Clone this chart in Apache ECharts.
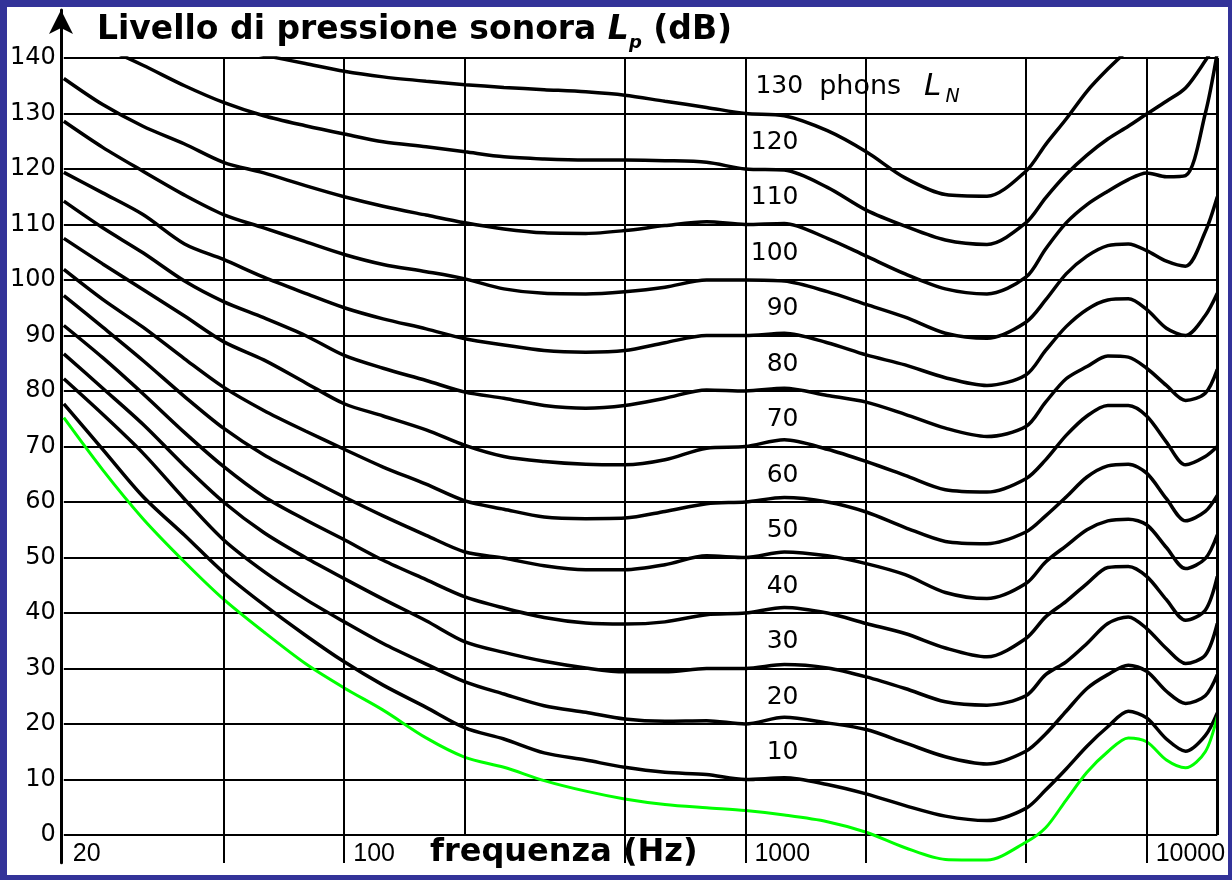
<!DOCTYPE html>
<html>
<head>
<meta charset="utf-8">
<title>Curve isofoniche</title>
<script src="https://cdn.jsdelivr.net/npm/echarts@6/dist/echarts.min.js"></script>
<style>
  html, body { margin: 0; padding: 0; width: 1232px; height: 880px; background: #333399; overflow: hidden; }
  #chart { position: absolute; left: 7px; top: 7px; width: 1221px; height: 868px; background: #ffffff; }
</style>
</head>
<body>
<div id="chart"></div>
<script>
// Frequencies (Hz) at which every contour is sampled
const FREQ = [20, 25, 31.5, 40, 50, 63, 80, 100, 125, 160, 200, 250, 315, 400, 500, 630, 800, 1000,
              1250, 1600, 2000, 2500, 3150, 4000, 5000, 5600, 6300, 7100, 8000, 9000, 10000, 11200,
              12500, 14000, 15000];

// Loudness level of each contour (phon)
const PHON = [10, 20, 30, 40, 50, 60, 70, 80, 90, 100, 110, 120, 130];

// Sound pressure level (dB) of each equal-loudness contour
const SPL_10  = [77.7, 69.5, 61, 54, 47.3, 41.5, 36, 31.2, 27, 23, 19.3, 17.3, 14.8, 13.5, 12.2, 11.3, 10.9, 10, 10.3, 9.1, 7.4, 5.3, 3.4, 2.6, 4.8, 8.1, 11.9, 16, 19.5, 22.3, 21.1, 17.3, 15.1, 17.9, 22];
const SPL_20  = [82.2, 75.8, 68.8, 60.5, 53.2, 47.5, 42.5, 38.4, 34.5, 30.8, 27.6, 25.4, 23.3, 22.1, 20.9, 20.5, 20.6, 20, 21.2, 20.2, 19, 16.6, 14.1, 12.8, 15.1, 18.2, 22.3, 26.4, 28.9, 30.6, 29.5, 25.9, 23.7, 25.1, 28.9];
const SPL_30  = [86.7, 80.5, 74, 66.5, 60, 54.5, 50, 46.2, 42.5, 38.6, 34.8, 32.9, 31.3, 30.1, 29.4, 29.4, 30, 30, 30.7, 30.1, 28.5, 26.4, 24, 23.4, 25.1, 28.9, 31.2, 34.5, 38.1, 39.3, 37.2, 33.6, 30.9, 32.4, 38.1];
const SPL_40  = [91.8, 86, 79.5, 72.5, 66.4, 61, 56.8, 53.2, 49.5, 46, 42.9, 40.9, 39.2, 38.2, 38, 38.4, 39.7, 40, 41, 40, 38.1, 36.3, 33.7, 32.1, 35.4, 39.3, 42.1, 45.3, 48.2, 48.4, 46.6, 42.4, 38.7, 40.5, 46.6];
const SPL_50  = [97.2, 91.5, 85.5, 79, 73.3, 68.5, 64.5, 60.9, 57.5, 54, 51, 49.9, 48.5, 47.8, 47.8, 48.7, 50.3, 50, 51, 50.3, 48.9, 46.9, 43.7, 42.6, 45.3, 49.2, 52.1, 55, 56.6, 56.9, 55.9, 51.8, 48, 49.8, 54.1];
const SPL_60  = [101.9, 96.5, 91.5, 85.8, 80.7, 76.5, 72.8, 69.5, 66.3, 63.2, 60.2, 58.7, 57.3, 57, 57.1, 58.3, 59.7, 60, 60.8, 60, 58.2, 55.4, 52.9, 52.5, 54.6, 57.5, 60.9, 64.5, 66.5, 66.8, 65.2, 60.6, 56.6, 58.3, 61.2];
const SPL_70  = [107.5, 102.9, 98.3, 93.5, 88.9, 85.6, 81.5, 77.7, 75.5, 73, 70.2, 68.2, 67.3, 66.8, 66.7, 67.6, 69.7, 70, 71.2, 69.5, 67.3, 64.8, 62.2, 61.8, 64.2, 67.6, 72, 75.5, 77.4, 77.4, 75.5, 70.8, 66.7, 68.2, 70];
const SPL_80  = [114.2, 109.4, 104.9, 99.8, 96.1, 93.2, 90, 86.4, 84.1, 81.9, 79.8, 78.7, 77.4, 76.9, 77.4, 78.7, 80.2, 80, 80.5, 79.2, 78, 75.8, 73.3, 71.8, 73.6, 78, 82.2, 84.4, 86.3, 86.1, 84.1, 81, 78.3, 79.6, 83.9];
const SPL_90  = [119.4, 115.7, 111.8, 106.5, 103.7, 100.5, 97.6, 95, 93, 91.2, 89.4, 88.3, 87.3, 87, 87.3, 88.7, 90, 90, 90.4, 88.7, 86.5, 84.7, 82.4, 81, 82.9, 87.3, 91.6, 94.7, 96.4, 96.6, 94.7, 91.3, 90, 93.6, 97.6];
const SPL_100 = [128.6, 123.9, 119.6, 115.3, 111.8, 109.4, 106.9, 104.6, 102.8, 101.5, 100.2, 98.4, 97.6, 97.5, 97.9, 98.7, 100, 100, 99.8, 97.9, 95.6, 93.3, 90.4, 89.5, 92.4, 96.4, 101.1, 104.3, 106.2, 106.5, 105.3, 103.4, 102.5, 108.7, 115];
const SPL_110 = [136.3, 131.6, 127.7, 124.5, 121.2, 119.3, 117, 115, 113.3, 111.7, 110.3, 109.2, 108.5, 108.4, 108.9, 109.8, 110.5, 110, 110.2, 107.5, 104.3, 101.1, 98.4, 97.5, 100.5, 105.6, 110.3, 113.6, 116, 118.1, 119.3, 118.6, 118.8, 130, 141];
const SPL_120 = [145, 142, 138.7, 135, 132, 129.6, 127.8, 126.3, 124.9, 124, 123.1, 122.2, 121.8, 121.6, 121.6, 121.5, 121.2, 120, 119.8, 116.7, 112.6, 109.7, 107.2, 106.4, 110.3, 114.8, 119, 122.5, 125.4, 127.7, 129.9, 132.2, 134.6, 139.5, 143];
const SPL_130 = [150, 147.5, 145.5, 143.5, 142, 140.5, 139, 137.6, 136.6, 135.8, 135.2, 134.7, 134.3, 133.9, 133.3, 132.2, 131.1, 130, 129.6, 126.9, 123.1, 118.4, 115.4, 115.1, 119.6, 124.4, 129, 134, 138, 141.5, 144.5, 147.5, 150, 153, 155];

// Threshold of hearing (green curve)
const THRESHOLD = [75.2, 65.8, 57, 49.2, 42.5, 36.6, 30.9, 26.5, 22.5, 17.5, 14, 12.2, 9.8, 7.9, 6.5, 5.5, 4.9, 4.4, 3.6, 2.4, 0.5, -2.3, -4.4, -4.5, -1.3, 1.3, 6.3, 11.3, 15, 17.5, 16.8, 13.5, 12.1, 15, 21.4];

// Axis ticks and grid
const X_LABELS   = [20, 100, 1000, 10000];
const GRID_FREQS = [50, 100, 200, 500, 1000, 2000, 5000, 10000];
const TICK_FREQS = [50, 100, 500, 1000, 2000, 5000, 10000];
const F_MIN = 20, F_MAX = 15000;
const DB_MIN = 0, DB_MAX = 140, DB_STEP = 10;

const CONTOURS = [SPL_10, SPL_20, SPL_30, SPL_40, SPL_50, SPL_60, SPL_70, SPL_80, SPL_90, SPL_100, SPL_110, SPL_120, SPL_130];

const NUM_FONT  = '"Liberation Sans", Arial, sans-serif';
const TEXT_FONT = '"DejaVu Sans", sans-serif';

const toPairs = vals => FREQ.map((f, i) => [f, vals[i]]);

function phonLabel(level) {
  if (level === 130) {
    return {
      show: true, position: 'inside', align: 'left', verticalAlign: 'middle', offset: [10, -27],
      formatter: '{n|' + level + '}{p|phons}{i|L}{s|N}',
      rich: {
        n: { fontFamily: TEXT_FONT, fontSize: 25, color: '#000', lineHeight: 40 },
        p: { fontFamily: TEXT_FONT, fontSize: 27, color: '#000', lineHeight: 40, padding: [0, 0, 0, 16] },
        i: { fontFamily: TEXT_FONT, fontSize: 31, fontStyle: 'italic', color: '#000', lineHeight: 40, padding: [0, 0, 0, 23] },
        s: { fontFamily: TEXT_FONT, fontSize: 19, fontStyle: 'italic', color: '#000', lineHeight: 19, verticalAlign: 'bottom', padding: [0, 0, 0, 4] }
      }
    };
  }
  return {
    show: true, position: 'inside', align: 'right', verticalAlign: 'middle', offset: [53, -27],
    formatter: String(level), fontFamily: TEXT_FONT, fontSize: 25, color: '#000'
  };
}

const contourSeries = CONTOURS.map((vals, k) => ({
  type: 'line', name: PHON[k] + ' phon', xAxisIndex: 0, yAxisIndex: 0,
  data: toPairs(vals), showSymbol: false, symbol: 'none', smooth: 0.3, clip: true, silent: true,
  lineStyle: { color: '#000', width: 3.5 },
  markPoint: {
    silent: true, symbol: 'circle', symbolSize: 1, itemStyle: { color: 'rgba(0,0,0,0)' },
    data: [{ coord: [1000, PHON[k]], label: phonLabel(PHON[k]) }]
  }
}));

const gridLineSeries = {
  type: 'line', name: 'grid', xAxisIndex: 0, yAxisIndex: 0, data: [], silent: true,
  markLine: {
    silent: true, symbol: ['none', 'none'], label: { show: false },
    lineStyle: { color: '#000', width: 2, type: 'solid' },
    emphasis: { disabled: true },
    data: GRID_FREQS.map(f => [{ coord: [f, DB_MIN] }, { coord: [f, DB_MAX] }])
      .concat([[{ coord: [F_MAX, DB_MIN], lineStyle: { width: 3 } }, { coord: [F_MAX, DB_MAX] }]])
  }
};

const thresholdSeries = {
  type: 'line', name: 'soglia', xAxisIndex: 0, yAxisIndex: 0,
  data: toPairs(THRESHOLD), showSymbol: false, symbol: 'none', smooth: 0.3, clip: false, silent: true,
  lineStyle: { color: '#00ff00', width: 3 }
};

const option = {
  animation: false,
  backgroundColor: '#ffffff',
  title: [
    {
      text: '{b|Livello di pressione sonora }{i|L}{s|p}{b| (dB)}',
      left: 90, top: 1, padding: 0,
      textStyle: {
        rich: {
          b: { fontFamily: TEXT_FONT, fontWeight: 'bold', fontSize: 33, color: '#000', lineHeight: 44 },
          i: { fontFamily: TEXT_FONT, fontStyle: 'italic', fontSize: 33, color: '#000', lineHeight: 44 },
          s: { fontFamily: TEXT_FONT, fontStyle: 'italic', fontSize: 18, color: '#000', lineHeight: 18, verticalAlign: 'bottom' }
        }
      }
    },
    {
      text: 'frequenza (Hz)', left: 423, top: 830, padding: 0,
      textStyle: { fontFamily: TEXT_FONT, fontWeight: 'bold', fontSize: 32, color: '#000', lineHeight: 32 }
    }
  ],
  grid: [
    // plotting area: 0 .. 140 dB
    { left: 54, right: 7, top: 51, bottom: 40 },
    // frame for the vertical axis, which runs past both ends of the plotting area
    { left: 54, right: 7, top: 3, bottom: 12.25 }
  ],
  xAxis: [
    {
      gridIndex: 0, type: 'log', logBase: 10, min: F_MIN, max: F_MAX,
      axisLine: { show: false },
      axisTick: { show: true, customValues: TICK_FREQS, length: 28, inside: false, lineStyle: { color: '#000', width: 2 } },
      axisLabel: {
        show: true, customValues: X_LABELS, formatter: v => String(Math.round(v)),
        align: 'left', verticalAlign: 'top', padding: [0, 0, 0, 9], margin: 7,
        fontFamily: NUM_FONT, fontSize: 25, color: '#000'
      },
      splitLine: { show: false }
    },
    {
      gridIndex: 1, type: 'log', logBase: 10, min: F_MIN, max: F_MAX, show: false
    }
  ],
  yAxis: [
    {
      gridIndex: 0, type: 'value', min: DB_MIN, max: DB_MAX, interval: DB_STEP,
      axisLine: { show: false }, axisTick: { show: false },
      axisLabel: { fontFamily: TEXT_FONT, fontSize: 24, color: '#000', margin: 8 },
      splitLine: { lineStyle: { color: '#000', width: 2 } }
    },
    {
      gridIndex: 1, type: 'value', min: -5, max: 148.65,
      axisLine: { show: true, onZero: false, symbol: ['none', 'arrow'], symbolSize: [18, 24], lineStyle: { color: '#000', width: 3 } },
      axisTick: { show: false }, axisLabel: { show: false }, splitLine: { show: false }
    }
  ],
  series: [gridLineSeries].concat(contourSeries, [thresholdSeries])
};

const chart = echarts.init(document.getElementById('chart'));
chart.setOption(option);
</script>
</body>
</html>
